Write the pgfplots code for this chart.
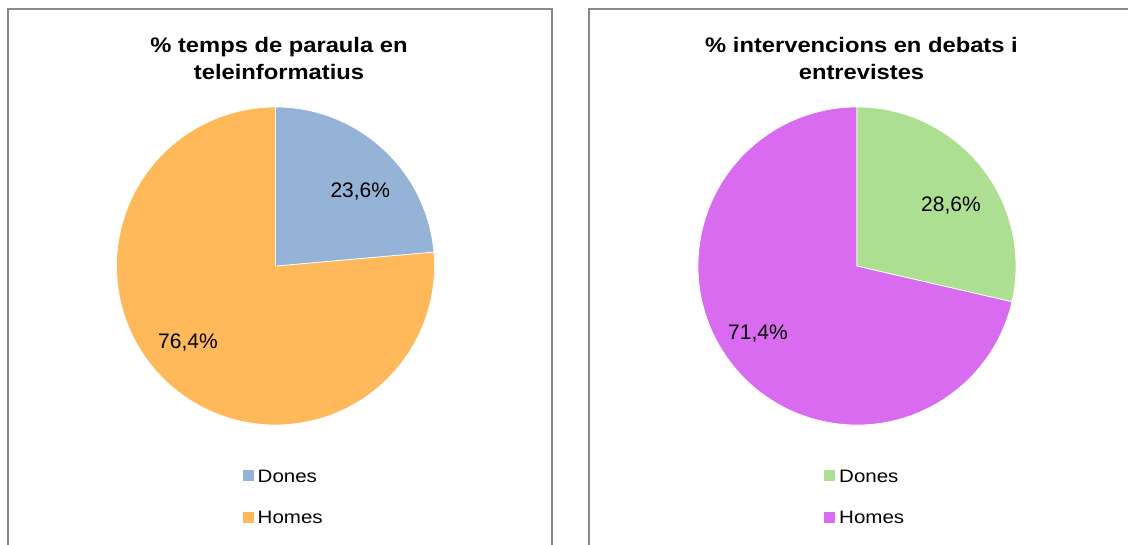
\documentclass[border=0pt]{standalone}
\usepackage{pgfplots}
\usepackage{pgfplotstable}
\pgfplotsset{compat=1.18}
\usepackage{fontspec}
\setmainfont{Liberation Sans}
\newfontfamily\titlefont{Liberation Sans Bold}[FakeStretch=1.13]
\newfontfamily\legfont{Liberation Sans}[FakeStretch=1.14]

\definecolor{cDonesA}{HTML}{95B3D7}
\definecolor{cHomesA}{HTML}{FFB95B}
\definecolor{cDonesB}{HTML}{ADDF93}
\definecolor{cHomesB}{HTML}{D96BF1}
\definecolor{bordergray}{HTML}{898989}

\pgfplotstableread{
group share
Dones 23.6
Homes 76.4
}\tempsparaula
\pgfplotstableread{
group share
Dones 28.6
Homes 71.4
}\intervencions

\pgfplotsset{
  piepanel/.style={
    scale only axis, hide axis, clip=false,
    height=545pt, ymin=0, ymax=545, y dir=reverse, xmin=0,
    anchor=south west,
    title style={anchor=north, align=center, inner sep=0pt,
      font=\titlefont\fontsize{21}{27}\selectfont},
    legend image code/.code={\fill[##1] (0pt,-4.4pt) rectangle (10.4pt,5.8pt);},
    legend cell align=left,
    legend style={draw=none, fill=none, anchor=north west, inner sep=0pt,
      font=\legfont\fontsize{18}{21}\selectfont,
      nodes={inner sep=0pt, text height=12.8pt, text depth=0pt},
      row sep=28.8pt,
      /tikz/every odd column/.append style={column sep=4.4pt}},
  }
}

\begin{document}
\begin{tikzpicture}
\pgfplotstablegetelem{0}{share}\of\tempsparaula
\pgfmathsetmacro{\angA}{90-3.6*\pgfplotsretval}
\pgfplotstablegetelem{0}{share}\of\intervencions
\pgfmathsetmacro{\angB}{90-3.6*\pgfplotsretval}

% left panel
\begin{axis}[piepanel, at={(0pt,0pt)}, width=560pt, xmax=560,
  title={\% temps de paraula en\\teleinformatius},
  title style={at={(axis cs:279,43.5)}},
  legend style={at={(axis cs:242.3,469.3)}}]
\addlegendimage{cDonesA}\addlegendentry{Dones}
\addlegendimage{cHomesA}\addlegendentry{Homes}
\draw[bordergray, line width=2pt] (axis cs:8.3,560) -- (axis cs:8.3,8.8) -- (axis cs:551.7,8.8) -- (axis cs:551.7,560);
\fill[cHomesA, draw=white, line width=0.7pt] (axis cs:275.5,266) -- ++(\angA:159pt) arc[start angle=\angA, end angle=-270, radius=159pt] -- cycle;
\fill[cDonesA, draw=white, line width=0.7pt] (axis cs:275.5,266) -- ++(90:159pt) arc[start angle=90, end angle=\angA, radius=159pt] -- cycle;
\node[anchor=base, inner sep=0pt, font=\fontsize{21}{25}\selectfont] at (axis cs:360.3,197.3) {23,6\%};
\node[anchor=base, inner sep=0pt, font=\fontsize{21}{25}\selectfont] at (axis cs:188,349) {76,4\%};
\end{axis}

% right panel
\begin{axis}[piepanel, at={(581.5pt,0pt)}, width=546.5pt, xmax=546.5,
  title={\% intervencions en debats i\\entrevistes},
  title style={at={(axis cs:280,43.5)}},
  legend style={at={(axis cs:242.3,469.3)}}]
\addlegendimage{cDonesB}\addlegendentry{Dones}
\addlegendimage{cHomesB}\addlegendentry{Homes}
\draw[bordergray, line width=2pt] (axis cs:7.5,560) -- (axis cs:7.5,8.8) -- (axis cs:560,8.8);
\fill[cHomesB, draw=white, line width=0.7pt] (axis cs:275.5,266) -- ++(\angB:159pt) arc[start angle=\angB, end angle=-270, radius=159pt] -- cycle;
\fill[cDonesB, draw=white, line width=0.7pt] (axis cs:275.5,266) -- ++(90:159pt) arc[start angle=90, end angle=\angB, radius=159pt] -- cycle;
\node[anchor=base, inner sep=0pt, font=\fontsize{21}{25}\selectfont] at (axis cs:369.5,211.5) {28,6\%};
\node[anchor=base, inner sep=0pt, font=\fontsize{21}{25}\selectfont] at (axis cs:176.5,339.5) {71,4\%};
\end{axis}
\pgfresetboundingbox
\path[use as bounding box] (0pt,0pt) rectangle (1128pt,545pt);
\end{tikzpicture}
\end{document}
